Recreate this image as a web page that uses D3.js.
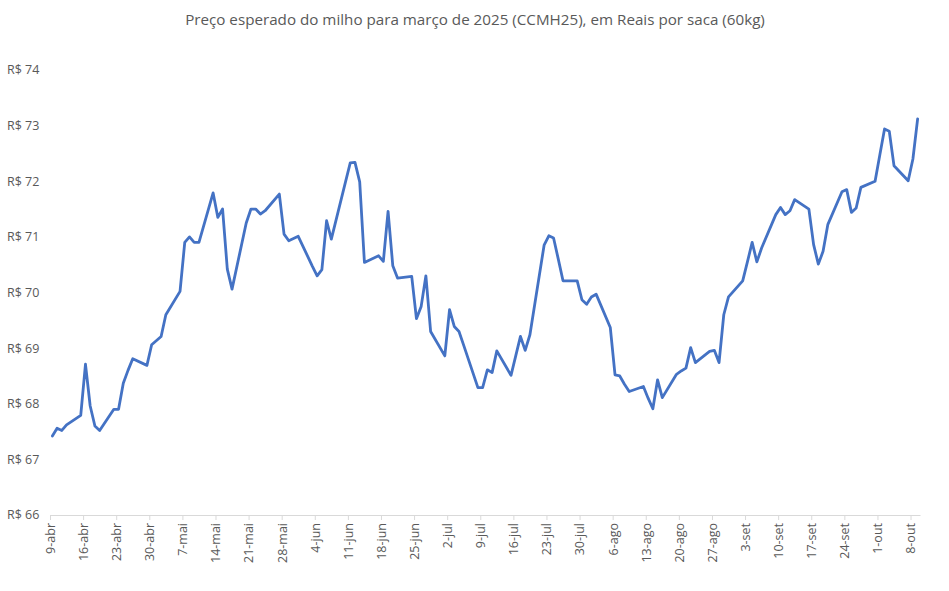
<!DOCTYPE html>
<html>
<head>
<meta charset="utf-8">
<script src="https://cdn.jsdelivr.net/npm/d3@7"></script>
<style>
  body { margin: 0; background: #fff; }
  text { font-family: "Open Sans", "Noto Sans", sans-serif; fill: #595959; }
</style>
</head>
<body>
<svg id="chart" width="949" height="591"></svg>
<script>
// trading days (2024) and settlement price, R$/saca
const dates = [
  "2024-04-09", "2024-04-10", "2024-04-11", "2024-04-12", "2024-04-15", "2024-04-16", "2024-04-17", "2024-04-18", "2024-04-19",
  "2024-04-22", "2024-04-23", "2024-04-24", "2024-04-25", "2024-04-26", "2024-04-29", "2024-04-30", "2024-05-02", "2024-05-03",
  "2024-05-06", "2024-05-07", "2024-05-08", "2024-05-09", "2024-05-10", "2024-05-13", "2024-05-14", "2024-05-15", "2024-05-16",
  "2024-05-17", "2024-05-20", "2024-05-21", "2024-05-22", "2024-05-23", "2024-05-24", "2024-05-27", "2024-05-28", "2024-05-29",
  "2024-05-31", "2024-06-03", "2024-06-04", "2024-06-05", "2024-06-06", "2024-06-07", "2024-06-10", "2024-06-11", "2024-06-12",
  "2024-06-13", "2024-06-14", "2024-06-17", "2024-06-18", "2024-06-19", "2024-06-20", "2024-06-21", "2024-06-24", "2024-06-25",
  "2024-06-26", "2024-06-27", "2024-06-28", "2024-07-01", "2024-07-02", "2024-07-03", "2024-07-04", "2024-07-05", "2024-07-08",
  "2024-07-09", "2024-07-10", "2024-07-11", "2024-07-12", "2024-07-15", "2024-07-16", "2024-07-17", "2024-07-18", "2024-07-19",
  "2024-07-22", "2024-07-23", "2024-07-24", "2024-07-25", "2024-07-26", "2024-07-29", "2024-07-30", "2024-07-31", "2024-08-01",
  "2024-08-02", "2024-08-05", "2024-08-06", "2024-08-07", "2024-08-08", "2024-08-09", "2024-08-12", "2024-08-13", "2024-08-14",
  "2024-08-15", "2024-08-16", "2024-08-19", "2024-08-20", "2024-08-21", "2024-08-22", "2024-08-23", "2024-08-26", "2024-08-27",
  "2024-08-28", "2024-08-29", "2024-08-30", "2024-09-02", "2024-09-03", "2024-09-04", "2024-09-05", "2024-09-06", "2024-09-09",
  "2024-09-10", "2024-09-11", "2024-09-12", "2024-09-13", "2024-09-16", "2024-09-17", "2024-09-18", "2024-09-19", "2024-09-20",
  "2024-09-23", "2024-09-24", "2024-09-25", "2024-09-26", "2024-09-27", "2024-09-30", "2024-10-01", "2024-10-02", "2024-10-03",
  "2024-10-04", "2024-10-07", "2024-10-08", "2024-10-09"
];
const prices = [
  67.42, 67.56, 67.52, 67.62, 67.79, 68.71, 67.96, 67.60, 67.52,
  67.90, 67.90, 68.37, 68.60, 68.81, 68.69, 69.06, 69.21, 69.60,
  70.02, 70.90, 71.00, 70.90, 70.90, 71.79, 71.35, 71.50, 70.42,
  70.06, 71.25, 71.50, 71.50, 71.41, 71.47, 71.77, 71.05, 70.93,
  71.01, 70.47, 70.30, 70.41, 71.29, 70.96, 71.99, 72.33, 72.34,
  71.99, 70.54, 70.66, 70.56, 71.46, 70.48, 70.26, 70.29, 69.53,
  69.75, 70.30, 69.30, 68.86, 69.69, 69.39, 69.30, 69.05, 68.29,
  68.29, 68.61, 68.56, 68.95, 68.51, 68.86, 69.21, 68.96, 69.24,
  70.85, 71.02, 70.98, 70.60, 70.21, 70.21, 69.87, 69.79, 69.92,
  69.97, 69.37, 68.52, 68.50, 68.35, 68.22, 68.31, 68.10, 67.91,
  68.43, 68.11, 68.53, 68.59, 68.64, 69.01, 68.74, 68.94, 68.96,
  68.74, 69.60, 69.92, 70.21, 70.55, 70.90, 70.55, 70.80, 71.40,
  71.53, 71.40, 71.47, 71.67, 71.50, 70.86, 70.51, 70.74, 71.22,
  71.81, 71.85, 71.44, 71.52, 71.89, 72.00, 72.47, 72.94, 72.90,
  72.28, 72.01, 72.40, 73.12
];
const yTicks = [66, 67, 68, 69, 70, 71, 72, 73, 74];
const monthNames = ["jan", "fev", "mar", "abr", "mai", "jun", "jul", "ago", "set", "out", "nov", "dez"];
const titleText = "Preço esperado do milho para março de 2025 (CCMH25), em Reais por saca (60kg)";

const parse = d3.timeParse("%Y-%m-%d");
const data = dates.map((d, i) => ({ date: parse(d), value: prices[i] }));

const svg = d3.select("#chart");
const plot = { left: 50, right: 920, top: 70, bottom: 515 };

const x = d3.scaleTime()
  .domain([parse("2024-04-09"), parse("2024-10-10")])
  .range([plot.left, plot.right]);

const y = d3.scaleLinear().domain([66, 74]).range([plot.bottom, plot.top]);

// title
svg.append("text")
  .attr("x", 475)
  .attr("y", 25)
  .attr("text-anchor", "middle")
  .style("font-size", "15.2px")
  .text(titleText);

// y labels (no axis line in the original)
svg.selectAll(".ylab")
  .data(yTicks)
  .enter()
  .append("text")
  .attr("class", "ylab")
  .attr("x", 7)
  .attr("y", (d) => y(d))
  .attr("dy", "0.35em")
  .style("font-size", "12.5px")
  .text((d) => "R$ " + d);

// x axis, one tick per week (tuesdays)
const weekTicks = d3.timeTuesday.range(parse("2024-04-09"), parse("2024-10-09"));
const xAxis = d3.axisBottom(x)
  .tickValues(weekTicks)
  .tickSize(5)
  .tickSizeOuter(0)
  .tickFormat((d) => d.getDate() + "-" + monthNames[d.getMonth()]);

const gx = svg.append("g")
  .attr("transform", `translate(0,${plot.bottom})`)
  .call(xAxis);

gx.select(".domain").attr("stroke", "#d9d9d9").attr("stroke-width", 1);
gx.selectAll(".tick line").attr("stroke", "#d9d9d9");
gx.selectAll(".tick text")
  .attr("transform", "rotate(-90)")
  .attr("text-anchor", "end")
  .attr("x", -8)
  .attr("y", 0)
  .attr("dy", "0.35em")
  .style("font-size", "12.5px")
  .style("font-family", "'Open Sans', sans-serif")
  .attr("fill", "#595959");

// price line, points centred in their day
const line = d3.line()
  .x((d) => x(d3.timeHour.offset(d.date, 12)))
  .y((d) => y(d.value));

svg.append("path")
  .datum(data)
  .attr("d", line)
  .attr("fill", "none")
  .attr("stroke", "#4472c4")
  .attr("stroke-width", 2.8)
  .attr("stroke-linejoin", "round")
  .attr("stroke-linecap", "round");
</script>
</body>
</html>
